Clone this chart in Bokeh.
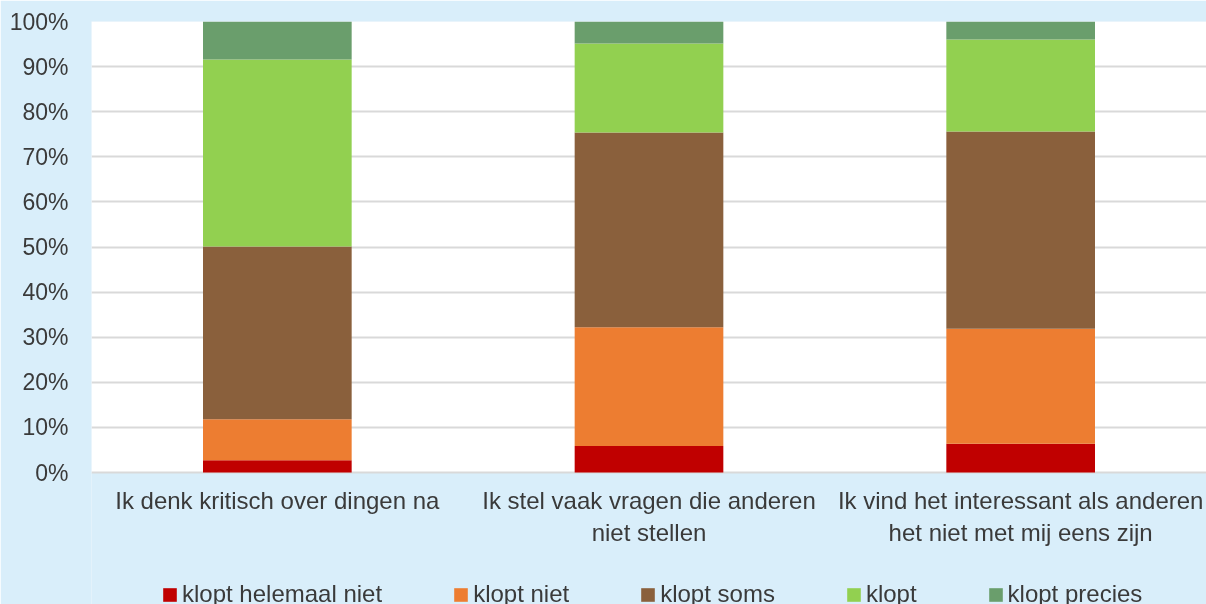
from bokeh.plotting import figure
from bokeh.models import FactorRange, Range1d, Legend, LegendItem, FixedTicker, BoxAnnotation
from bokeh.embed import file_html
from bokeh.resources import INLINE

categories = [
    "Ik denk kritisch over dingen na",
    "Ik stel vaak vragen die anderen\nniet stellen",
    "Ik vind het interessant als anderen\nhet niet met mij eens zijn",
]
series = ["klopt helemaal niet", "klopt niet", "klopt soms", "klopt", "klopt precies"]
klopt_helemaal_niet = [2.7, 5.9, 6.4]
klopt_niet = [9.1, 26.3, 25.5]
klopt_soms = [38.3, 43.2, 43.7]
klopt = [41.5, 19.7, 20.4]
klopt_precies = [8.4, 4.9, 4.0]
colors = ["#C00000", "#ED7D31", "#8A603C", "#92D050", "#6A9E6C"]
y_ticks = [0, 10, 20, 30, 40, 50, 60, 70, 80, 90, 100]
y_tick_labels = ["0%", "10%", "20%", "30%", "40%", "50%", "60%", "70%", "80%", "90%", "100%"]

data = dict(cat=categories)
for name, vals in zip(series, [klopt_helemaal_niet, klopt_niet, klopt_soms, klopt, klopt_precies]):
    data[name] = vals

BG = "#D9EEFA"
TXT = "#3A3A3A"
FONT = "Liberation Sans"

# layout: plot area 451 px tall for 0-100 %, 132 px of label/legend room below it
PLOT_H = 451
BELOW_H = 132
y_start = -100.0 * BELOW_H / PLOT_H

p = figure(
    x_range=FactorRange(factors=categories),
    y_range=Range1d(y_start, 100),
    frame_width=1115, frame_height=PLOT_H + BELOW_H,
    output_backend="svg", toolbar_location=None,
    min_border_left=91, min_border_right=0, min_border_top=21, min_border_bottom=0,
    background_fill_color=BG, border_fill_color=BG,
    outline_line_color=None,
    styles={"position": "fixed", "left": "0px", "top": "0px"},
)

# white plot area from 0% to 100%
p.add_layout(BoxAnnotation(bottom=0, top=100, fill_color="white", fill_alpha=1.0,
                           line_color=None, level="image"))

rs = p.vbar_stack(series, x="cat", width=0.4, color=colors, source=data, line_color=None)

p.xgrid.grid_line_color = None
p.ygrid.grid_line_color = "#D9D9D9"
p.ygrid.grid_line_width = 2
p.yaxis.ticker = FixedTicker(ticks=y_ticks)
p.ygrid.ticker = FixedTicker(ticks=y_ticks)
p.yaxis.major_label_overrides = {t: l for t, l in zip(y_ticks, y_tick_labels)}
p.xaxis.fixed_location = 0

for ax in (p.xaxis[0], p.yaxis[0]):
    ax.axis_line_color = None
    ax.major_tick_line_color = None
    ax.minor_tick_line_color = None
    ax.major_tick_out = 0
    ax.major_tick_in = 0
    ax.minor_tick_out = 0
    ax.minor_tick_in = 0
    ax.major_label_text_font = FONT
    ax.major_label_text_color = TXT
p.yaxis.major_label_text_font_size = "23px"
p.xaxis.major_label_text_font_size = "24px"
p.yaxis.major_label_standoff = 23
p.xaxis.major_label_standoff = 14

legend = Legend(
    items=[LegendItem(label=s, renderers=[r]) for s, r in zip(series, rs)],
    orientation="horizontal", location=(70, -4),
    label_text_font=FONT, label_text_font_size="24px", label_text_color=TXT,
    glyph_width=17, glyph_height=17, label_standoff=4, spacing=70,
    background_fill_alpha=0, border_line_alpha=0, padding=0, margin=0,
)
p.add_layout(legend)

open("out.html", "w").write(file_html(p, INLINE))
